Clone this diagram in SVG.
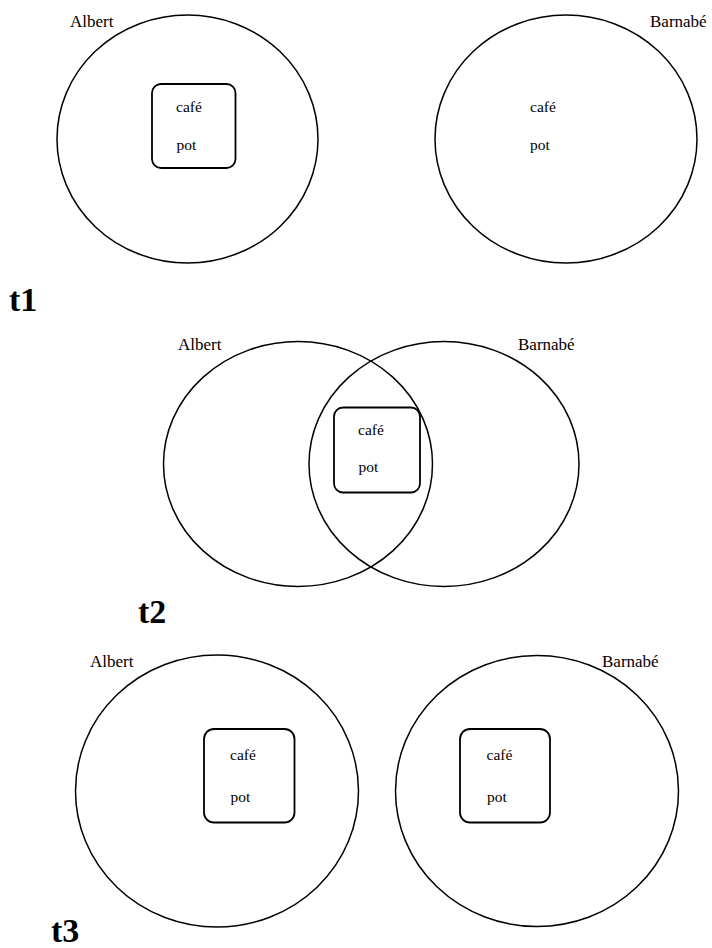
<svg xmlns="http://www.w3.org/2000/svg" width="712" height="948" viewBox="0 0 712 948">
<style>
.set{fill:none;stroke:#000;stroke-width:1.5}
.box{fill:none;stroke:#000;stroke-width:1.8}
.lbl{font-family:"Liberation Serif","Times New Roman",serif;font-size:17px;fill:#000}
.item{font-family:"Liberation Serif","Times New Roman",serif;font-size:15.5px;fill:#000}
.time{font-family:"Liberation Serif","Times New Roman",serif;font-size:34px;font-weight:bold;fill:#000}
</style>
<rect width="712" height="948" fill="#fff"/>
<g id="t1">
  <g id="t1-albert">
    <ellipse class="set" cx="187.5" cy="139" rx="130.5" ry="124"/>
    <text class="lbl" x="70" y="27">Albert</text>
  </g>
  <g id="t1-albert-box">
    <rect class="box" x="152" y="84" width="83.5" height="84" rx="9"/>
    <text class="item" x="176" y="112">café</text>
    <text class="item" x="176.5" y="150">pot</text>
  </g>
  <g id="t1-barnabe">
    <ellipse class="set" cx="566" cy="139" rx="131" ry="124"/>
    <text class="lbl" x="650" y="27">Barnabé</text>
    <text class="item" x="530" y="112">café</text>
    <text class="item" x="530" y="150">pot</text>
  </g>
  <text class="time" x="9" y="311">t1</text>
</g>
<g id="t2">
  <g id="t2-albert">
    <ellipse class="set" cx="298" cy="464" rx="134.5" ry="122.5"/>
    <text class="lbl" x="178" y="350">Albert</text>
  </g>
  <g id="t2-barnabe">
    <ellipse class="set" cx="444" cy="464" rx="135" ry="122.5"/>
    <text class="lbl" x="518" y="350">Barnabé</text>
  </g>
  <g id="t2-box">
    <rect class="box" x="334" y="407.5" width="86" height="85" rx="9"/>
    <text class="item" x="358" y="435">café</text>
    <text class="item" x="358.5" y="472">pot</text>
  </g>
  <text class="time" x="138" y="623">t2</text>
</g>
<g id="t3">
  <g id="t3-albert">
    <ellipse class="set" cx="217" cy="791" rx="141.5" ry="136"/>
    <text class="lbl" x="90" y="667">Albert</text>
  </g>
  <g id="t3-albert-box">
    <rect class="box" x="204" y="729" width="90.5" height="93.5" rx="10"/>
    <text class="item" x="230" y="760">café</text>
    <text class="item" x="230.5" y="802">pot</text>
  </g>
  <g id="t3-barnabe">
    <ellipse class="set" cx="537" cy="791" rx="141.5" ry="135.5"/>
    <text class="lbl" x="602" y="667">Barnabé</text>
  </g>
  <g id="t3-barnabe-box">
    <rect class="box" x="460" y="729" width="90" height="93.5" rx="10"/>
    <text class="item" x="486.5" y="760">café</text>
    <text class="item" x="487" y="802">pot</text>
  </g>
  <text class="time" x="51" y="942">t3</text>
</g>
</svg>
